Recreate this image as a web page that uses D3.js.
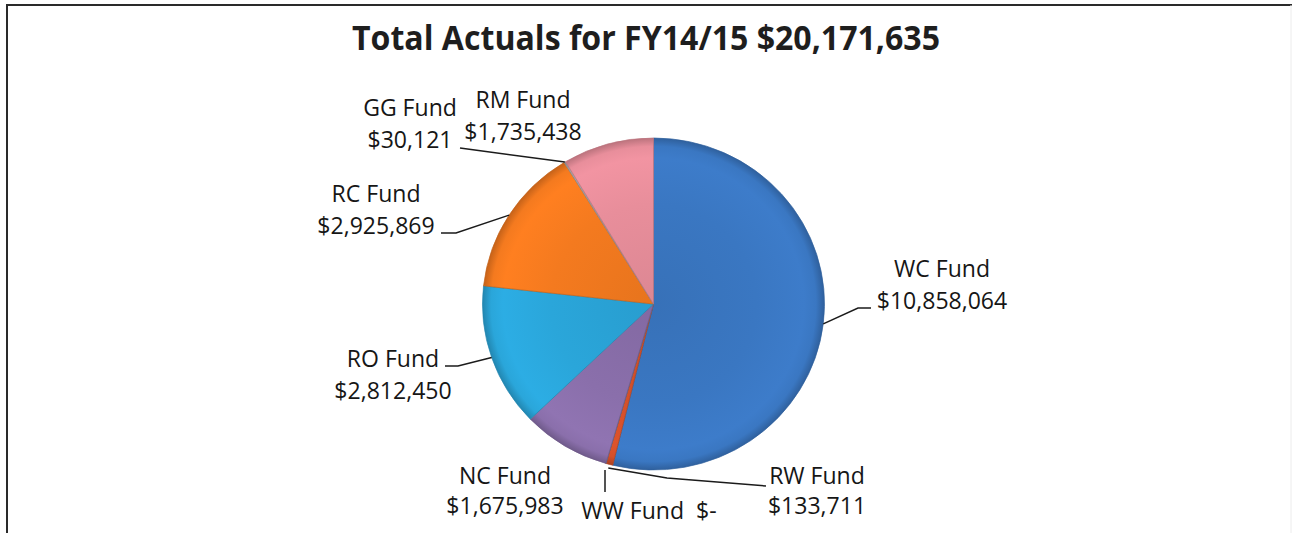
<!DOCTYPE html>
<html>
<head>
<meta charset="utf-8">
<script src="https://cdn.jsdelivr.net/npm/d3@7"></script>
<style>
  html, body { margin: 0; padding: 0; background: #ffffff; }
  svg { display: block; }
  text { font-family: "Open Sans", "Noto Sans", sans-serif; fill: #161616; white-space: pre; }
</style>
</head>
<body>
<svg id="chart" width="1295" height="533"></svg>
<script>
// ---- data ----
const title = "Total Actuals for FY14/15 $20,171,635";
const categories = ["WC Fund", "RW Fund", "WW Fund", "NC Fund", "RO Fund", "RC Fund", "GG Fund", "RM Fund"];
const values = [10858064, 133711, 0, 1675983, 2812450, 2925869, 30121, 1735438];
const valueLabels = ["$10,858,064", "$133,711", "$-", "$1,675,983", "$2,812,450", "$2,925,869", "$30,121", "$1,735,438"];

// ---- styles / layout ----
const colors = ["#3a77c2", "#d4502a", "#7f7f7f", "#8a6fab", "#2aa6da", "#f47a1f", "#a7a3a6", "#e88e9b"];
const W = 1295, H = 533;
const cx = 653.5, cy = 304, rx = 171, ry = 166;

// label layout: x center, baselines, leader path (after the edge point)
const labelLayout = {
  "WC Fund": { x: 942, y: [277, 309], leader: [[858, 308], [871, 308]] },
  "RW Fund": { x: 817, y: [484, 514], leader: [[667, 478], [766, 486]], edgeOffset: 4 },
  "WW Fund": { x: 649, y: [519], single: true, leader: [[605, 492]], fixedStart: [605, 470] },
  "NC Fund": { x: 505, y: [484, 514], leader: null },
  "RO Fund": { x: 393, y: [367, 399], leader: [[458, 366], [445, 366]] },
  "RC Fund": { x: 376, y: [202, 234], leader: [[456, 233], [441, 233]] },
  "GG Fund": { x: 410, y: [116, 148], leader: [[460, 148]] },
  "RM Fund": { x: 523, y: [108, 140], leader: null }
};

const svg = d3.select("#chart");
const defs = svg.append("defs");

// frame
svg.append("line").attr("x1", 7).attr("y1", 5).attr("x2", 1292).attr("y2", 5)
  .attr("stroke", "#2a2a2a").attr("stroke-width", 2);
svg.append("line").attr("x1", 7).attr("y1", 4).attr("x2", 7).attr("y2", H)
  .attr("stroke", "#2a2a2a").attr("stroke-width", 2);
svg.append("line").attr("x1", 1291).attr("y1", 5).attr("x2", 1291).attr("y2", H)
  .attr("stroke", "#ececec").attr("stroke-width", 1);

// title
const t = svg.append("text")
  .attr("x", 646).attr("y", 50)
  .attr("text-anchor", "middle")
  .attr("font-weight", 700)
  .attr("font-size", 34)
  .style("fill", "#1e1e1e")
  .text(title);
t.attr("textLength", 588).attr("lengthAdjust", "spacingAndGlyphs");

// pie
const pie = d3.pie().sort(null).value(d => d)(values);
const arc = d3.arc().innerRadius(0).outerRadius(rx);

pie.forEach((p, i) => {
  const c = d3.color(colors[i]);
  const g = defs.append("radialGradient")
    .attr("id", "grad" + i)
    .attr("gradientUnits", "userSpaceOnUse")
    .attr("cx", 0).attr("cy", 0).attr("r", rx);
  g.append("stop").attr("offset", "0%").attr("stop-color", c.darker(0.15));
  g.append("stop").attr("offset", "60%").attr("stop-color", c);
  g.append("stop").attr("offset", "88%").attr("stop-color", c.brighter(0.12));
  g.append("stop").attr("offset", "95%").attr("stop-color", c);
  g.append("stop").attr("offset", "100%").attr("stop-color", c.darker(0.6));
});

const pg = svg.append("g")
  .attr("transform", `translate(${cx},${cy}) scale(1,${ry / rx})`);

pg.selectAll("path.slice")
  .data(pie)
  .join("path")
  .attr("class", "slice")
  .attr("d", arc)
  .attr("fill", (d, i) => `url(#grad${i})`)
  .attr("stroke", (d, i) => d3.color(colors[i]).darker(0.6))
  .attr("stroke-width", 1)
  .attr("stroke-opacity", 0.7);

// leader lines
function edgePoint(d, extra) {
  const a = (d.startAngle + d.endAngle) / 2;
  const r = rx + (extra || 0);
  return [cx + r * Math.sin(a), cy - r * (ry / rx) * Math.cos(a)];
}

pie.forEach((d, i) => {
  const L = labelLayout[categories[i]];
  if (!L.leader) return;
  const start = L.fixedStart || edgePoint(d, L.edgeOffset || 0);
  const pts = [start].concat(L.leader);
  svg.append("path")
    .attr("d", d3.line()(pts))
    .attr("fill", "none")
    .attr("stroke", "#1b1b1b")
    .attr("stroke-width", 1.5);
});

// labels
const labelSize = 24;
const labelsG = svg.append("g");
const texts = [];
categories.forEach((cat, i) => {
  const L = labelLayout[cat];
  const lines = L.single ? [cat + "  " + valueLabels[i]] : [cat, valueLabels[i]];
  lines.forEach((s, k) => {
    const tx = labelsG.append("text")
      .attr("x", L.x).attr("y", L.y[k])
      .attr("text-anchor", "middle")
      .attr("font-size", labelSize)
      .text(s);
    texts.push(tx);
  });
});
// condense to Calibri-like width
const probe = labelsG.append("text").attr("font-size", labelSize).text("WC Fund");
const factor = 96 / probe.node().getComputedTextLength();
probe.remove();
texts.forEach(tx => {
  const w = tx.node().getComputedTextLength();
  tx.attr("textLength", w * factor).attr("lengthAdjust", "spacingAndGlyphs");
});
</script>
</body>
</html>
